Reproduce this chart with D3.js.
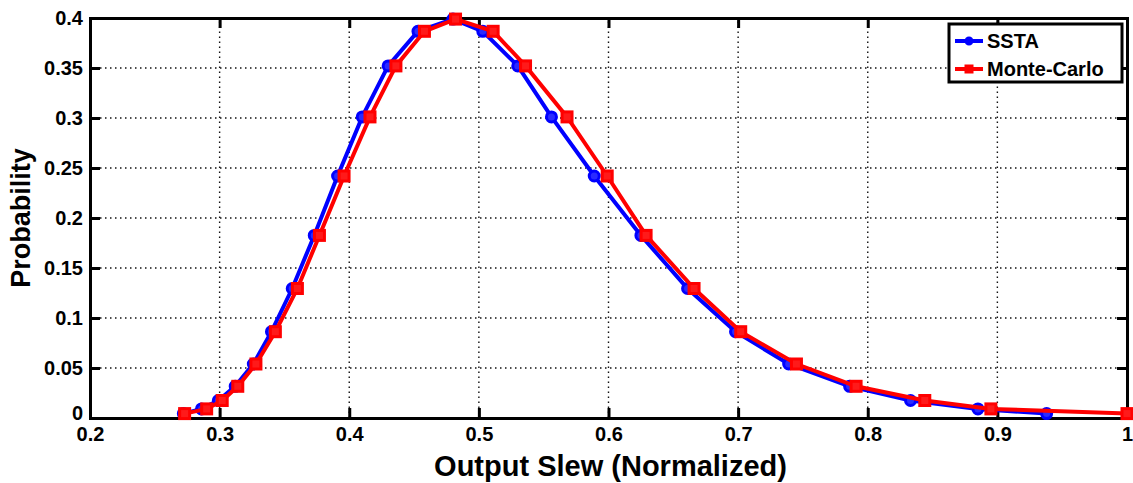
<!DOCTYPE html>
<html>
<head>
<meta charset="utf-8">
<script src="https://cdn.jsdelivr.net/npm/d3@7"></script>
<style>
  body { margin: 0; background: #fff; }
  svg text { font-family: "Liberation Sans", Arial, sans-serif; font-weight: bold; }
</style>
</head>
<body>
<svg id="chart" width="1133" height="483"></svg>
<script>
// probability values shared by both curves
const prob = [0.0044, 0.0091, 0.0175, 0.0317, 0.054, 0.0863, 0.1295, 0.1826, 0.242, 0.3011, 0.3521, 0.3867, 0.3989,
              0.3867, 0.3521, 0.3011, 0.242, 0.1826, 0.1295, 0.0863, 0.054, 0.0317, 0.0175, 0.0091, 0.0044];

// output slew (normalized) for each series
const sstaX = [0.272, 0.286, 0.299, 0.312, 0.326, 0.340, 0.356, 0.373, 0.391, 0.410, 0.430, 0.453, 0.480,
               0.503, 0.530, 0.556, 0.589, 0.625, 0.661, 0.698, 0.739, 0.786, 0.833, 0.885, 0.938];
const mcX = [0.273, 0.290, 0.302, 0.314, 0.328, 0.343, 0.360, 0.377, 0.396, 0.416, 0.436, 0.458, 0.482,
             0.511, 0.536, 0.568, 0.599, 0.629, 0.666, 0.702, 0.745, 0.791, 0.844, 0.895, 1.0];

const xTicks = [0.2, 0.3, 0.4, 0.5, 0.6, 0.7, 0.8, 0.9, 1];
const yTicks = [0, 0.05, 0.1, 0.15, 0.2, 0.25, 0.3, 0.35, 0.4];

const svg = d3.select("#chart");
const marginLeft = 90, marginRight = 6, marginTop = 18, marginBottom = 65;
const width = 1133, height = 483;

const x = d3.scaleLinear().domain([0.2, 1]).range([marginLeft, width - marginRight]);
const y = d3.scaleLinear().domain([0, 0.4]).range([height - marginBottom, marginTop]);

// dotted grid
svg.append("g")
  .selectAll("line")
  .data(xTicks.slice(1, -1))
  .join("line")
    .attr("x1", d => x(d)).attr("x2", d => x(d))
    .attr("y1", y(0)).attr("y2", y(0.4))
    .attr("stroke", "#111").attr("stroke-width", 1.4).attr("stroke-dasharray", "1.5,3.5");

svg.append("g")
  .selectAll("line")
  .data(yTicks.slice(1, -1))
  .join("line")
    .attr("x1", x(0.2)).attr("x2", x(1))
    .attr("y1", d => y(d)).attr("y2", d => y(d))
    .attr("stroke", "#111").attr("stroke-width", 1.4).attr("stroke-dasharray", "1.5,3.5");

// axes with inward ticks
const fmt = d => d3.format("")(+d.toFixed(2));

svg.append("g")
  .attr("transform", `translate(0,${y(0)})`)
  .call(d3.axisBottom(x).tickValues(xTicks).tickSize(-10).tickPadding(9).tickFormat(fmt))
  .call(g => g.selectAll("text").attr("font-size", 20).attr("fill", "#000"));

svg.append("g")
  .attr("transform", `translate(0,${y(0.4)})`)
  .call(d3.axisTop(x).tickValues(xTicks).tickSize(-10).tickFormat(""));

svg.append("g")
  .attr("transform", `translate(${x(0.2)},0)`)
  .call(d3.axisLeft(y).tickValues(yTicks).tickSize(-10).tickPadding(7).tickFormat(fmt))
  .call(g => g.selectAll("text").attr("font-size", 20).attr("fill", "#000"))
  // the zero label sits just above the x axis labels
  .call(g => g.selectAll(".tick text").filter(d => d === 0).attr("dy", "0.05em"));

svg.append("g")
  .attr("transform", `translate(${x(1)},0)`)
  .call(d3.axisRight(y).tickValues(yTicks).tickSize(-10).tickFormat(""));

svg.selectAll(".domain").attr("stroke", "#000").attr("stroke-width", 3);
svg.selectAll(".tick line").attr("stroke", "#000").attr("stroke-width", 3);

// series
const line = d3.line().x(d => x(d[0])).y(d => y(d[1]));
const ssta = sstaX.map((v, i) => [v, prob[i]]);
const mc = mcX.map((v, i) => [v, prob[i]]);

svg.append("path").datum(ssta)
  .attr("d", line).attr("fill", "none").attr("stroke", "#0000ff").attr("stroke-width", 4);
svg.append("g").selectAll("circle").data(ssta).join("circle")
  .attr("cx", d => x(d[0])).attr("cy", d => y(d[1])).attr("r", 5)
  .attr("fill", "#2a2aff").attr("stroke", "#0000ff").attr("stroke-width", 3);

svg.append("path").datum(mc)
  .attr("d", line).attr("fill", "none").attr("stroke", "#ff0000").attr("stroke-width", 4);
svg.append("g").selectAll("rect").data(mc).join("rect")
  .attr("x", d => x(d[0]) - 5).attr("y", d => y(d[1]) - 5)
  .attr("width", 10).attr("height", 10)
  .attr("fill", "#ff1a1a").attr("stroke", "#ff0000").attr("stroke-width", 3);

// axis titles
svg.append("text")
  .attr("x", (x(0.2) + x(1)) / 2 + 2).attr("y", 476)
  .attr("text-anchor", "middle").attr("font-size", 29)
  .text("Output Slew (Normalized)");

svg.append("text")
  .attr("transform", `translate(30,${(y(0) + y(0.4)) / 2}) rotate(-90)`)
  .attr("text-anchor", "middle").attr("font-size", 27)
  .text("Probability");

// legend
const legend = svg.append("g").attr("transform", "translate(949,24)");
legend.append("rect")
  .attr("width", 173).attr("height", 58)
  .attr("fill", "#fff").attr("stroke", "#000").attr("stroke-width", 3);

const items = [
  { name: "SSTA", color: "#0000ff", shape: "circle" },
  { name: "Monte-Carlo", color: "#ff0000", shape: "square" }
];
items.forEach((it, i) => {
  const cy = 17 + i * 28;
  legend.append("line")
    .attr("x1", 6).attr("x2", 34).attr("y1", cy).attr("y2", cy)
    .attr("stroke", it.color).attr("stroke-width", 4);
  if (it.shape === "circle") {
    legend.append("circle").attr("cx", 20).attr("cy", cy).attr("r", 3.5)
      .attr("fill", it.color).attr("stroke", it.color).attr("stroke-width", 2);
  } else {
    legend.append("rect").attr("x", 15.5).attr("y", cy - 4.5).attr("width", 9).attr("height", 9)
      .attr("fill", it.color);
  }
  legend.append("text")
    .attr("x", 38).attr("y", cy + 7)
    .attr("font-size", 20)
    .text(it.name);
});
</script>
</body>
</html>
